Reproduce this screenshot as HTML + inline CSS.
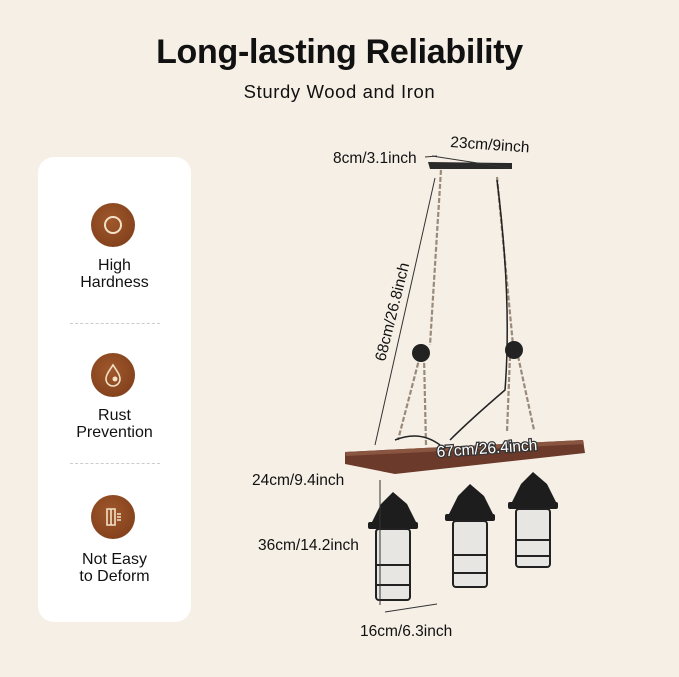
<!DOCTYPE html>
<html><head><meta charset="utf-8"><style>
body{margin:0;width:679px;height:677px;background:#f5efe6;font-family:"Liberation Sans",sans-serif;overflow:hidden;position:relative}
.t{position:absolute;left:0;width:679px;text-align:center;color:#111}
.panel{position:absolute;left:38px;top:157px;width:153px;height:465px;background:#fff;border-radius:16px}
.lbl{position:absolute;left:38px;width:153px;text-align:center;font-size:16px;line-height:17px;color:#111}
.ic{position:absolute;width:44px;height:44px;border-radius:50%;background:radial-gradient(circle at 45% 40%,#a0582c,#7a3a17);left:91px}
.dash{position:absolute;left:70px;width:90px;border-top:1px dashed #ccc}
</style></head><body>
<div class="t" style="top:33px;font-size:34px;font-weight:bold;letter-spacing:-0.3px">Long-lasting Reliability</div>
<div class="t" style="top:81px;font-size:18.5px;letter-spacing:0.6px">Sturdy Wood and Iron</div>
<div class="panel"></div>
<div class="ic" style="top:203px"><div style="position:absolute;left:13px;top:13px;width:14px;height:14px;border:2px solid #f3e1c8;border-radius:50%"></div></div>
<div class="lbl" style="top:257px">High<br>Hardness</div>
<div class="dash" style="top:323px"></div>
<div class="ic" style="top:353px"><svg width="44" height="44"><path d="M22 12 C18 18 15 22 15 26 a7 7 0 0 0 14 0 C29 22 26 18 22 12Z" fill="none" stroke="#f3e1c8" stroke-width="1.6"/><circle cx="24" cy="26" r="2.5" fill="#f3e1c8"/></svg></div>
<div class="lbl" style="top:407px">Rust<br>Prevention</div>
<div class="dash" style="top:463px"></div>
<div class="ic" style="top:495px"><svg width="44" height="44"><path d="M16 14h8v16h-8zM20 14v16" fill="none" stroke="#f3e1c8" stroke-width="1.6"/><path d="M26 19h4M26 22h4M26 25h4" stroke="#f3e1c8" stroke-width="1.4"/></svg></div>
<div class="lbl" style="top:551px">Not Easy<br>to Deform</div>

<svg width="679" height="677" style="position:absolute;left:0;top:0" font-family="Liberation Sans, sans-serif">
<g stroke="#9a8a7a" stroke-width="2.2" fill="none" stroke-dasharray="5 2">
<path d="M441 170 L430 345"/><path d="M497 177 L513 345"/>
<path d="M420 356 L398 440"/><path d="M424 356 L426 445"/>
<path d="M510 356 L507 432"/><path d="M518 356 L534 430"/>
</g>
<path d="M497 180 Q512 300 505 390 Q470 420 450 440" stroke="#222" stroke-width="1.5" fill="none"/>
<path d="M395 440 Q420 430 440 445" stroke="#222" stroke-width="1.5" fill="none"/>
<circle cx="421" cy="353" r="9" fill="#222"/><circle cx="514" cy="350" r="9" fill="#222"/>
<path d="M428 162 L512 163 L512 169 L430 169Z" fill="#2a2a2a"/>
<path d="M345 452 L583 440 L585 453 L395 474 L345 464Z" fill="#6b3a2a"/>
<path d="M345 452 L583 440 L584 444 L346 456Z" fill="#8a5540"/>
<g fill="#1d1d1d">
<path d="M393 492 l-12 12 l-10 20 l46 0 l-10 -20Z"/><rect x="368" y="522" width="50" height="7" rx="2"/>
<path d="M470 484 l-12 12 l-10 20 l46 0 l-10 -20Z"/><rect x="445" y="514" width="50" height="7" rx="2"/>
<path d="M533 472 l-12 12 l-10 20 l46 0 l-10 -20Z"/><rect x="508" y="502" width="50" height="7" rx="2"/>
</g>
<g fill="#e8e6e3" stroke="#222" stroke-width="2">
<rect x="376" y="529" width="34" height="71" rx="3"/><rect x="453" y="521" width="34" height="66" rx="3"/><rect x="516" y="509" width="34" height="58" rx="3"/>
</g>
<g stroke="#222" stroke-width="2" fill="none">
<path d="M376 565h34M376 585h34M453 555h34M453 573h34M516 540h34M516 556h34"/>
</g>
<g stroke="#333" stroke-width="1" fill="none">
<path d="M425 157 L437 156"/><path d="M432 156 L510 168"/>
<path d="M375 445 L435 178"/><path d="M380 480 L380 605"/><path d="M385 612 L437 604"/>
</g>
<g font-size="15.5" fill="#111">
<text x="333" y="163">8cm/3.1inch</text>
<text x="450" y="147" transform="rotate(4 450 147)">23cm/9inch</text>
<text x="0" y="0" transform="translate(385 362) rotate(-76)">68cm/26.8inch</text>
<text x="252" y="485">24cm/9.4inch</text>
<text x="258" y="550">36cm/14.2inch</text>
<text x="360" y="636">16cm/6.3inch</text>
<text x="437" y="457" transform="rotate(-4 437 457)" fill="#fff" stroke="#333" stroke-width="2.5" paint-order="stroke">67cm/26.4inch</text>
</g>
</svg>
</body></html>
